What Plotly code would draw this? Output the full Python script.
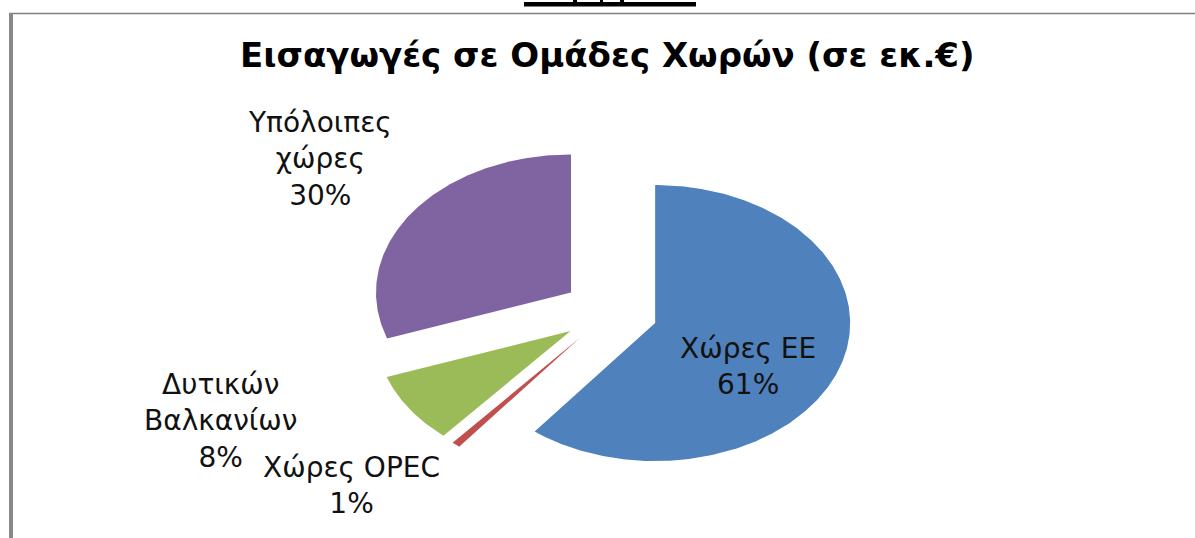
import numpy as np
import plotly.graph_objects as go

# ---- data ----
categories = ["Χώρες ΕΕ", "Χώρες OPEC", "Δυτικών Βαλκανίων", "Υπόλοιπες χώρες"]
label_text = ["Χώρες ΕΕ", "Χώρες OPEC", "Δυτικών<br>Βαλκανίων", "Υπόλοιπες<br>χώρες"]
values = [60.6, 0.7, 8.3, 30.4]
colors = ["#4F81BD", "#C0504D", "#9BBB59", "#8064A2"]
title_text = "Εισαγωγές σε Ομάδες Χωρών (σε εκ.€)"

# ---- layout constants (pixels) ----
W, H = 1195, 538
CX, CY = 610, 312          # pie centre in pixels
RX, RY = 195, 138          # pixel size of one radius unit (x, y)
EXPLODE = 0.245
label_px = [(748, 366), (351, 485), (220, 421), (320, 159)]

x_range = [(0 - CX) / RX, (W - CX) / RX]
y_range = [(CY - H) / RY, (CY - 0) / RY]

fig = go.Figure()
total = sum(values)
cum = 0.0
for name, v, c in zip(categories, values, colors):
    a0 = cum / total * 2 * np.pi
    a1 = (cum + v) / total * 2 * np.pi
    cum += v
    mid = (a0 + a1) / 2
    ox, oy = EXPLODE * np.sin(mid), EXPLODE * np.cos(mid)
    th = np.linspace(a0, a1, max(4, int((a1 - a0) * 80)))
    xs = np.concatenate([[ox], ox + np.sin(th), [ox]])
    ys = np.concatenate([[oy], oy + np.cos(th), [oy]])
    fig.add_trace(go.Scatter(
        x=xs, y=ys, fill="toself", fillcolor=c, mode="lines",
        line=dict(width=0, color=c), name=name, hoverinfo="name",
        showlegend=False))

pcts = [round(v / total * 100) for v in values]
for txt, p, (px, py) in zip(label_text, pcts, label_px):
    fig.add_annotation(
        x=(px - CX) / RX, y=(CY - py) / RY, xref="x", yref="y",
        text=f"{txt}<br>{p}%", showarrow=False, align="center",
        xanchor="center", yanchor="middle",
        font=dict(family="DejaVu Sans", size=28, color="#111111"))

fig.add_annotation(
    x=607 / W, y=1 - 55 / H, xref="paper", yref="paper",
    text=f"<b>{title_text}</b>", showarrow=False,
    xanchor="center", yanchor="middle",
    font=dict(family="DejaVu Sans", size=34, color="#000000"))

# frame and top fragment
shapes = [
    dict(type="line", xref="paper", yref="paper", x0=9 / W, x1=1, y0=1 - 13.5 / H, y1=1 - 13.5 / H,
         line=dict(color="#808080", width=1.5)),
    dict(type="rect", xref="paper", yref="paper", x0=9 / W, x1=13 / W, y0=0, y1=1 - 13 / H,
         line=dict(width=0), fillcolor="#888888"),
    dict(type="rect", xref="paper", yref="paper", x0=524 / W, x1=696 / W, y0=1 - 6.5 / H, y1=1 - 2 / H,
         line=dict(width=0), fillcolor="#000000"),
    dict(type="rect", xref="paper", yref="paper", x0=573 / W, x1=577 / W, y0=1 - 2 / H, y1=1,
         line=dict(width=0), fillcolor="#000000"),
    dict(type="rect", xref="paper", yref="paper", x0=600 / W, x1=603 / W, y0=1 - 2 / H, y1=1,
         line=dict(width=0), fillcolor="#000000"),
    dict(type="rect", xref="paper", yref="paper", x0=620 / W, x1=624 / W, y0=1 - 2 / H, y1=1,
         line=dict(width=0), fillcolor="#000000"),
]

fig.update_layout(
    width=W, height=H, autosize=False,
    margin=dict(l=0, r=0, t=0, b=0),
    paper_bgcolor="white", plot_bgcolor="white",
    xaxis=dict(range=x_range, visible=False, fixedrange=True),
    yaxis=dict(range=y_range, visible=False, fixedrange=True),
    shapes=shapes,
)

fig.write_html(
    "out.html",
    config={"displayModeBar": False},
    post_script="document.body.style.margin='0';document.body.style.overflow='hidden';",
)
